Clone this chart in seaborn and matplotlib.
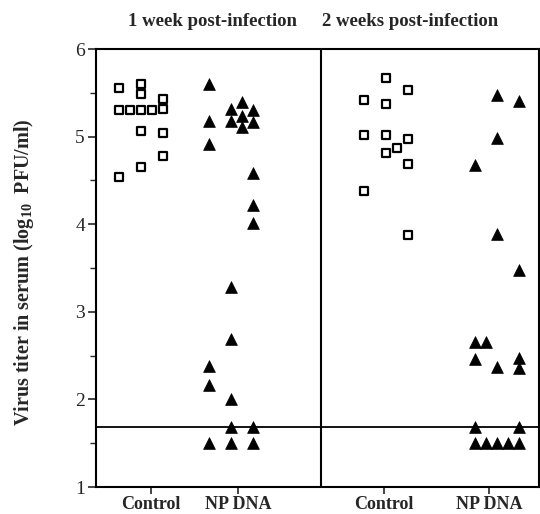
import numpy as np
import pandas as pd
import matplotlib
matplotlib.use("Agg")
import matplotlib.pyplot as plt
import seaborn as sns

# ---- data (log10 PFU/ml), with the visual column slot each point sits in ----
ctrl_w1 = [5.55, 5.60, 5.49, 5.43, 5.30, 5.30, 5.30, 5.30, 5.32, 5.06, 5.04, 4.78, 4.65, 4.54]
ctrl_w1_slot = [-2, 0, 0, 2, -2, -1, 0, 1, 2, 0, 2, 2, 0, -2]

np_w1 = [5.60, 5.18, 4.91, 5.39, 5.31, 5.30, 5.18, 5.23, 5.17, 5.11, 4.58, 4.22, 4.01,
         3.28, 2.69, 2.38, 2.16, 2.00, 1.69, 1.69, 1.50, 1.50, 1.50]
np_w1_slot = [-2, -2, -2, 1, 0, 2, 0, 1, 2, 1, 2, 2, 2,
              0, 0, -2, -2, 0, 0, 2, -2, 0, 2]

ctrl_w2 = [5.67, 5.53, 5.42, 5.37, 5.02, 5.02, 4.97, 4.87, 4.81, 4.69, 4.38, 3.88]
ctrl_w2_slot = [0, 2, -2, 0, -2, 0, 2, 1, 0, 2, -2, 2]

np_w2 = [5.47, 5.41, 4.98, 4.68, 3.89, 3.48, 2.66, 2.66, 2.46, 2.37, 2.47, 2.36,
         1.69, 1.69, 1.50, 1.50, 1.50, 1.50, 1.50]
np_w2_slot = [0, 2, 0, -2, 0, 2, -2, -1, -2, 0, 2, 2,
              -2, 2, -2, -1, 0, 1, 2]

group_names = ["Control", "NP DNA", "Control", "NP DNA"]
group_centers = [0.45, 1.35, 2.90, 4.01]
tick_positions = [0.55, 1.42, 2.88, 3.93]
panel_titles = ["1 week post-infection", "2 weeks post-infection"]
detection_limit = 1.69
slot_width = 0.11

rows = []
for gi, (vals, slots, kind) in enumerate([
        (ctrl_w1, ctrl_w1_slot, "Control"),
        (np_w1, np_w1_slot, "NP DNA"),
        (ctrl_w2, ctrl_w2_slot, "Control"),
        (np_w2, np_w2_slot, "NP DNA")]):
    for v, s in zip(vals, slots):
        rows.append({"x": group_centers[gi] + s * slot_width, "titer": v, "group": kind})
df = pd.DataFrame(rows)

sns.set_style("ticks")
plt.rcParams["font.family"] = ["Liberation Serif", "DejaVu Serif"]
plt.rcParams["mathtext.fontset"] = "custom"
plt.rcParams["mathtext.rm"] = "Liberation Serif"
plt.rcParams["mathtext.bf"] = "Liberation Serif:bold"

fig = plt.figure(figsize=(5.40, 5.14), dpi=100)
ax = fig.add_axes([96 / 540, 1 - 487 / 514, (539 - 96) / 540, (487 - 49) / 514])

sns.scatterplot(data=df[df.group == "Control"], x="x", y="titer", marker="s", s=26,
                facecolor="white", edgecolor="black", linewidth=1.6, ax=ax, legend=False)
sns.scatterplot(data=df[df.group == "NP DNA"], x="x", y="titer", marker="^", s=72,
                color="black", edgecolor="black", linewidth=0.5, ax=ax, legend=False)

ax.set_xlim(0, 4.43)
ax.set_ylim(1, 6)
ax.axvline(2.25, color="black", lw=1.5)
ax.axhline(detection_limit, color="black", lw=1.3)

for sp in ax.spines.values():
    sp.set_linewidth(1.5)
    sp.set_color("black")

ax.set_yticks([1, 2, 3, 4, 5, 6])
ax.set_yticks(np.arange(1.5, 6, 1.0), minor=True)
ax.set_xticks(tick_positions)
ax.set_xticklabels(group_names, fontweight="bold", fontsize=13)
ax.tick_params(axis="y", labelsize=14, direction="out", length=6, width=1.2, pad=2)
ax.tick_params(axis="y", which="minor", direction="out", length=4, width=1.0)
ax.tick_params(axis="x", direction="out", length=5, width=1.2, pad=1.5)
ax.set_xlabel("")
ax.set_ylabel(r"Virus titer in serum (log$_{\mathbf{10}}$  PFU/ml)", fontweight="bold",
              fontsize=14.5)
ax.yaxis.set_label_coords(-0.135, 0.49)

fig.text(212 / 540, 1 - 22 / 514, panel_titles[0], ha="center", va="center",
         fontweight="bold", fontsize=13.5)
fig.text(410 / 540, 1 - 22 / 514, panel_titles[1], ha="center", va="center",
         fontweight="bold", fontsize=13.5)

fig.savefig("out.png", dpi=100)
